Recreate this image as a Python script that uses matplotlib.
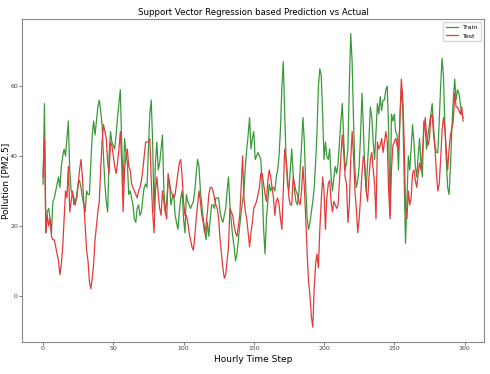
import numpy as np
import matplotlib
matplotlib.use("Agg")
import matplotlib.pyplot as plt

# values (300 hourly steps)
train = [
    32, 55, 18, 24, 25, 22, 18, 27, 28, 30, 32, 34, 31, 37, 40, 42, 40, 45, 50, 36,
    30, 29, 28, 26, 29, 32, 33, 31, 28, 26, 24, 30, 29, 29, 38, 46, 50, 46, 50, 54,
    56, 53, 49, 40, 32, 27, 24, 40, 47, 44, 43, 42, 46, 51, 55, 59, 43, 31, 45, 41,
    38, 29, 30, 28, 26, 22, 21, 25, 26, 23, 24, 28, 31, 32, 31, 42, 52, 56, 44, 24,
    38, 44, 36, 38, 42, 46, 30, 24, 27, 32, 33, 26, 28, 29, 23, 21, 19, 24, 28, 30,
    22, 18, 29, 27, 26, 25, 26, 27, 30, 35, 39, 37, 30, 26, 22, 19, 16, 21, 17, 22,
    26, 26, 25, 28, 28, 28, 24, 22, 21, 23, 25, 30, 34, 26, 21, 17, 14, 10, 12, 16,
    20, 24, 27, 30, 37, 42, 46, 51, 42, 45, 47, 39, 40, 41, 40, 39, 31, 19, 12, 22,
    27, 32, 30, 31, 31, 30, 34, 36, 40, 48, 60, 67, 52, 39, 32, 30, 36, 42, 35, 30,
    27, 26, 29, 36, 43, 51, 44, 31, 22, 19, 21, 24, 27, 31, 38, 47, 60, 65, 63, 52,
    39, 44, 40, 39, 42, 34, 30, 34, 37, 35, 38, 44, 50, 55, 45, 36, 38, 42, 60, 75,
    67, 50, 36, 31, 33, 37, 46, 58, 48, 36, 30, 38, 45, 54, 51, 44, 39, 47, 55, 52,
    57, 53, 56, 56, 59, 60, 47, 23, 52, 50, 52, 47, 46, 36, 51, 59, 54, 34, 15, 27,
    40, 36, 42, 49, 44, 37, 34, 40, 45, 38, 34, 50, 48, 42, 46, 49, 52, 55, 48, 43,
    41, 41, 50, 60, 68, 63, 49, 39, 31, 29, 37, 48, 56, 62, 56, 59, 58, 55, 52, 51,
]
test = [
    34, 45, 18, 23, 20, 22, 17, 16, 16, 14, 12, 10, 6, 9, 14, 22, 30, 28, 37, 24,
    27, 30, 26, 27, 28, 32, 36, 39, 34, 27, 20, 13, 10, 4, 2, 5, 9, 16, 20, 24,
    27, 36, 44, 49, 47, 45, 38, 35, 44, 43, 40, 37, 35, 38, 42, 47, 38, 24, 36, 40,
    42, 37, 36, 32, 31, 30, 29, 28, 30, 31, 33, 36, 40, 44, 44, 44, 45, 33, 24, 18,
    30, 34, 29, 25, 23, 30, 27, 24, 22, 35, 32, 30, 29, 28, 29, 32, 35, 38, 39, 34,
    27, 23, 23, 21, 18, 16, 14, 13, 17, 22, 26, 30, 27, 23, 21, 18, 20, 24, 29, 31,
    31, 30, 28, 26, 25, 22, 16, 12, 8, 5, 6, 10, 14, 25, 24, 23, 20, 18, 17, 20,
    23, 31, 40, 28, 24, 22, 18, 14, 18, 21, 25, 26, 27, 29, 31, 35, 35, 32, 29, 27,
    33, 36, 34, 31, 28, 23, 27, 28, 26, 22, 19, 30, 42, 39, 34, 28, 26, 26, 34, 32,
    30, 29, 27, 26, 30, 37, 31, 22, 12, 4, 0, -6, -9, 2, 9, 12, 8, 19, 27, 34,
    30, 19, 28, 32, 33, 27, 24, 27, 26, 25, 26, 33, 40, 46, 41, 34, 32, 21, 26, 39,
    47, 40, 30, 25, 18, 22, 28, 35, 40, 38, 30, 27, 34, 39, 41, 36, 32, 22, 44, 42,
    43, 45, 41, 44, 47, 44, 30, 22, 36, 43, 44, 45, 43, 42, 50, 62, 57, 45, 25, 22,
    30, 26, 28, 35, 36, 33, 31, 35, 38, 36, 41, 47, 51, 46, 43, 45, 51, 52, 46, 42,
    35, 30, 32, 39, 47, 51, 48, 42, 36, 42, 46, 48, 50, 58, 54, 54, 53, 52, 54, 50,
]
steps = np.arange(len(train))

fig = plt.figure(figsize=(4.9, 3.74), dpi=100)
ax = fig.add_axes([0.045, 0.086, 0.943, 0.863])

ax.plot(steps, train, color="#3a9a3a", lw=0.9, label="Train")
ax.plot(steps, test, color="#e23b3b", lw=0.9, label="Test")

ax.set_xticks([0, 50, 100, 150, 200, 250, 300])
ax.set_yticks([0, 20, 40, 60])
ax.tick_params(labelsize=4.5, length=2, width=0.5, pad=1, colors="#444444")
for s in ax.spines.values():
    s.set_color("#888888")
    s.set_linewidth(0.8)

ax.set_title("Support Vector Regression based Prediction vs Actual",
             fontsize=6.2, pad=3)
ax.set_xlabel("Hourly Time Step", fontsize=6.5, labelpad=3)
ax.set_ylabel("Pollution [PM2.5]", fontsize=6.5)
ax.yaxis.set_label_coords(-0.026, 0.5)
ax.legend(loc="upper right", fontsize=4.5, handlelength=2, frameon=True)

plt.savefig("out.png", dpi=100)
plt.close()
